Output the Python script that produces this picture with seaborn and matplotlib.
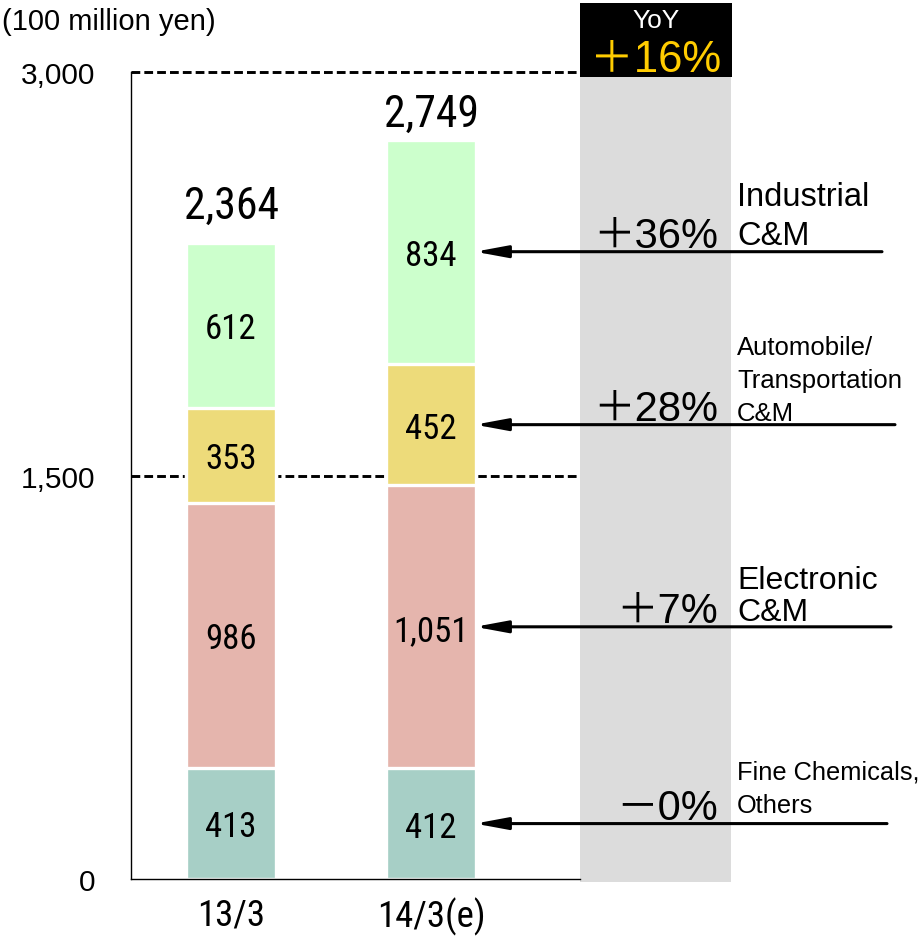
import matplotlib
matplotlib.use("Agg")
import matplotlib.pyplot as plt
from matplotlib import font_manager as fm
from matplotlib.patches import Rectangle
import numpy as np
import pandas as pd
import seaborn as sns

# ---- data -------------------------------------------------------------
periods = ["13/3", "14/3(e)"]
segments = ["Fine Chemicals, Others", "Electronic C&M",
            "Automobile/Transportation C&M", "Industrial C&M"]
fine_chem = [413, 412]
electronic = [986, 1051]
automobile = [353, 452]
industrial = [612, 834]
totals = [2364, 2749]
yoy_total = "\uff0b16%"
yoy_segment = ["\uff0d0%", "\uff0b7%", "\uff0b28%", "\uff0b36%"]
segment_labels = ["Fine Chemicals,\nOthers", "Electronic\nC&M",
                  "Automobile/\nTransportation\nC&M", "Industrial\nC&M"]
y_ticks = [0, 1500, 3000]
y_ticklabels = ["0", "1,500", "3,000"]
unit_label = "(100 million yen)"

colors = ["#A7CFC6", "#E5B5AD", "#EDDB7A", "#CCFFCC"]

sns.set_theme(style="white")
SANS = ["Liberation Sans", "Noto Sans CJK JP", "DejaVu Sans"]
plt.rcParams["font.family"] = SANS
for key in ("text.color", "axes.labelcolor", "xtick.color", "ytick.color",
            "axes.edgecolor"):
    plt.rcParams[key] = "black"

# narrow face for the numeric labels
available = {f.name for f in fm.fontManager.ttflist}
condensed = {f.name for f in fm.fontManager.ttflist
             if str(f.stretch) in ("condensed", "semi-condensed", "extra-condensed")}
if "Liberation Sans Narrow" in available:
    NUM = dict(family=["Liberation Sans Narrow", "DejaVu Sans"])
elif "Roboto Condensed" in available:
    NUM = dict(family=["Roboto Condensed", "DejaVu Sans"])
elif "DejaVu Sans" in condensed:
    NUM = dict(family=["DejaVu Sans"], fontstretch="condensed")
else:
    NUM = dict(family=["Noto Sans CJK JP", "DejaVu Sans"])

fig = plt.figure(figsize=(9.22, 9.37), dpi=100)
ax = fig.add_axes([131 / 922, 57 / 937, 791 / 922, 880 / 937])

layers = [fine_chem, electronic, automobile, industrial]
cum = np.cumsum(np.array(layers), axis=0)  # shape (4, 2)

# stacked bars: draw the cumulative heights from the top layer down
for i in range(len(layers) - 1, -1, -1):
    df = pd.DataFrame({"period": periods, "value": cum[i]})
    sns.barplot(data=df, x="period", y="value", order=periods, color=colors[i],
                width=0.45, edgecolor="white", linewidth=2.4, saturation=1,
                ax=ax, zorder=3)

ax.set_xlim(-0.5, 3.455)
ax.set_ylim(0, 3271.4)

# segment values inside the bars
for i, layer in enumerate(layers):
    for j, v in enumerate(layer):
        mid = cum[i][j] - v / 2
        ax.text(j, mid, f"{v:,}", ha="center", va="center_baseline",
                fontsize=25, zorder=5, **NUM)

# totals above the bars
total_gap = [18.5, 9.5]
for j, t in enumerate(totals):
    ax.annotate(f"{t:,}", xy=(j, t), xytext=(0, total_gap[j]),
                textcoords="offset points", ha="center", va="baseline",
                fontsize=31.5, zorder=5, **NUM)

# reference dashed lines
for yv in (1500, 3000):
    ax.plot([-0.5, 1.745], [yv, yv], color="black", lw=2.1,
            dashes=(3.0, 1.4), zorder=2, solid_capstyle="butt",
            dash_capstyle="butt")

# grey YoY column and black header
ax.add_patch(Rectangle((1.745, -11), 0.755, 3264, facecolor="#DCDCDC",
                       edgecolor="none", clip_on=False, zorder=1))
ax.add_patch(Rectangle((1.745, 2981), 0.76, 275, facecolor="black",
                       edgecolor="none", clip_on=False, zorder=4))
ax.text(2.125, 3167, "YoY", color="white", ha="center", va="baseline",
        fontsize=19, zorder=5)
ax.text(2.125, 3004, yoy_total, color="#FFCC00", ha="center", va="baseline",
        fontsize=31.5, zorder=5)

# arrows from each segment label to the forecast bar
arrow_ends = [3.28, 3.30, 3.32, 3.255]
label_sizes = [18.3, 23, 18.5, 23.5]
label_spacing = [1.46, 1.06, 1.47, 1.33]
label_lift = [5.0, 0.0, 0.0, 0.5]
for i, layer in enumerate(layers):
    mid = cum[i][1] - layer[1] / 2
    ax.annotate("", xy=(1.22, mid), xytext=(arrow_ends[i], mid),
                arrowprops=dict(arrowstyle="-|>,head_length=1.08,head_width=0.2",
                                mutation_scale=18, lw=2.2, color="black",
                                shrinkA=0, shrinkB=0),
                zorder=6, annotation_clip=False)
    ax.annotate(yoy_segment[i], xy=(2.435, mid), xytext=(0, 3.5),
                textcoords="offset points", ha="right", va="baseline",
                fontsize=30, zorder=6)
    ax.annotate(segment_labels[i], xy=(2.53, mid), xytext=(0, label_lift[i]),
                textcoords="offset points", ha="left", va="bottom",
                fontsize=label_sizes[i], linespacing=label_spacing[i],
                zorder=6, annotation_clip=False)

# axes styling
for side in ("top", "right"):
    ax.spines[side].set_visible(False)
ax.spines["left"].set_bounds(0, 3000)
ax.spines["bottom"].set_bounds(-0.5, 1.745)
for side in ("left", "bottom"):
    ax.spines[side].set_color("black")
    ax.spines[side].set_linewidth(1.0)
    ax.spines[side].set_zorder(7)

ax.set_yticks(y_ticks)
ax.set_yticklabels(y_ticklabels, fontsize=21.5)
ax.tick_params(axis="y", length=0, pad=26)
ax.set_xticks([0, 1])
ax.set_xticklabels(periods, fontsize=26.5, **NUM)
ax.set_xticks([-0.5, 0.5, 1.5], minor=True)
ax.tick_params(axis="x", which="major", length=0, pad=12.5)
ax.tick_params(axis="x", which="minor", direction="in", length=7, width=1,
               color="black")
ax.set_xlabel("")
ax.set_ylabel("")
ax.grid(False)

fig.text(2 / 922, 1 - 22 / 937, unit_label, ha="left", va="center",
         fontsize=21)

fig.savefig("out.png", dpi=100)
